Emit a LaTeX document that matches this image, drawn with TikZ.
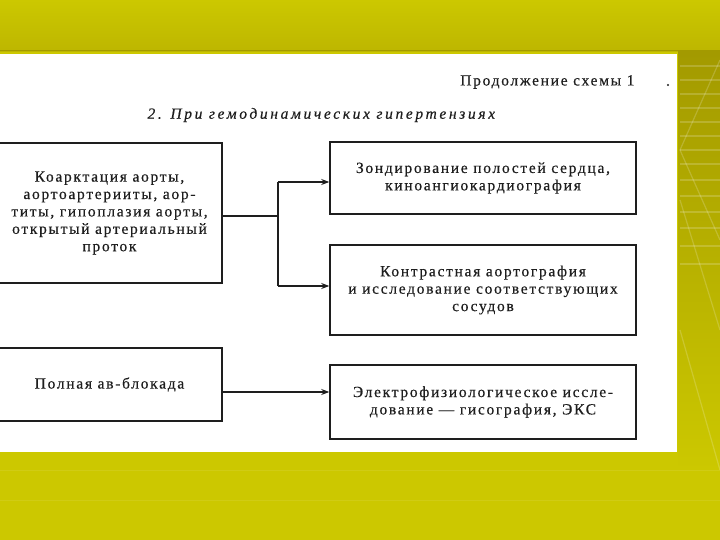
\documentclass[tikz,border=0pt]{standalone}
\usepackage{fontspec}
\setmainfont{Liberation Serif}[LetterSpace=11, FakeBold=0.4]
\usetikzlibrary{arrows.meta,calc}
\definecolor{bgyel}{HTML}{CCC800}
\definecolor{bgdark}{HTML}{BDB600}
\definecolor{olive}{HTML}{A39A00}
\definecolor{ink}{HTML}{1E1E1E}
\tikzset{
  box/.style={draw=ink, line width=1.5pt, fill=white, inner sep=0pt, align=center,
    font=\fontsize{15.5}{17.4}\selectfont, text=ink},
  conn/.style={draw=ink, line width=1.2pt},
  arr/.style={conn, -{Stealth[length=8pt,width=6pt]}},
  stripe/.style={draw=white, opacity=0.18, line width=1.2pt}
}
\begin{document}
\begin{tikzpicture}[x=1pt,y=-1pt]
\useasboundingbox (0,0) rectangle (720,540);
\clip (0,0) rectangle (720,540);
% background
\fill[bgyel] (0,0) rectangle (720,540);
\shade[top color=bgyel, bottom color=bgdark] (0,0) rectangle (720,52);
\draw[olive, line width=1pt] (0,51) -- (720,51);
\shade[top color=olive, bottom color=bgyel] (678,52) rectangle (720,470);
\foreach \yy in {66,80,94,108,122,136,150,164,180,196,212,228,246,264}
  \draw[stripe] (680,\yy) -- (720,\yy);
\draw[stripe] (720,60) -- (680,150) -- (720,240);
\draw[stripe] (680,200) -- (720,330);
\draw[stripe] (680,330) -- (720,470);
\foreach \yy in {470,500}
  \draw[draw=white, opacity=0.08, line width=1pt] (0,\yy) -- (720,\yy);
% white panel
\fill[white] (0,54) rectangle (677,452);
% texts
\node[anchor=east, font=\fontsize{15.5}{17}\selectfont, text=ink] (hdr) at (638,82) {Продолжение схемы 1};
\node[circle, fill=ink, inner sep=0.8pt] (dot) at (668,85) {};
\node[anchor=west, font=\fontsize{15.5}{17}\itshape\addfontfeature{LetterSpace=17}\selectfont, text=ink] (sub) at (144,115) {2. При гемодинамических гипертензиях};
% boxes
\node[box, minimum width=225, minimum height=140] (b1) at (109.5,213)
  {Коарктация аорты,\\аортоартерииты, аор-\\титы, гипоплазия аорты,\\открытый артериальный\\проток};
\node[box, minimum width=306, minimum height=72] (b2) at (483,178)
  {Зондирование полостей сердца,\\киноангиокардиография};
\node[box, minimum width=306, minimum height=90] (b3) at (483,290)
  {Контрастная аортография\\и исследование соответствующих\\сосудов};
\node[box, minimum width=225, minimum height=73] (b4) at (109.5,384.5)
  {Полная ав-блокада};
\node[box, minimum width=306, minimum height=74] (b5) at (483,402)
  {Электрофизиологическое иссле-\\дование — гисография, ЭКС};
% connectors
\coordinate (j) at (278,216);
\coordinate (jt) at ($(j |- b2.west)+(0,4)$);
\coordinate (jb) at ($(j |- b3.west)+(0,-4)$);
\draw[conn] (b1.east |- j) -- (j);
\draw[conn] (jt) -- (jb);
\draw[arr] (jt) -- (b2.west |- jt);
\draw[arr] (jb) -- (b3.west |- jb);
\coordinate (k) at ($(b4.east)+(0,7.5)$);
\draw[arr] (k) -- (b5.west |- k);
\end{tikzpicture}
\end{document}
